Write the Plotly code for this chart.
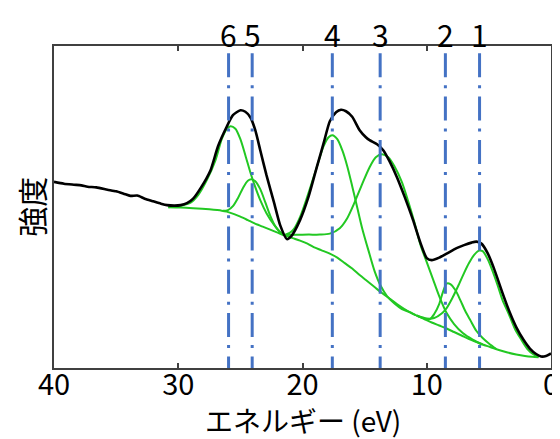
import plotly.graph_objects as go

# Measured spectrum (energy eV, intensity a.u.)
spec_x = [40.0, 39.2, 38.4, 37.8, 37.3, 36.6, 35.7, 35.0, 34.4, 33.85, 33.3, 32.7, 32.0, 31.4, 30.9, 30.3,
          29.8, 29.3, 28.8, 28.2, 27.4, 26.8, 26.1, 25.6, 25.0, 24.6, 24.2, 23.8, 23.4, 22.9, 22.3, 21.8,
          21.26, 20.9, 20.2, 19.5, 18.85, 18.3, 17.8, 17.3, 16.9, 16.5, 16.0, 15.4, 14.9, 14.6, 14.0, 13.5,
          13.0, 12.4, 11.8, 11.1, 10.5, 10.0, 9.6, 9.0, 8.4, 7.6, 7.0, 6.4, 6.0, 5.6, 5.1, 4.6, 3.9, 3.3,
          2.8, 2.2, 1.7, 1.2, 0.8, 0.4, 0.0]
spec_y = [186.3, 184.5, 183.5, 182.8, 181.5, 180.8, 178.5, 176.8, 174.5, 172.3, 172.6, 169.5, 166.8, 164.5, 163, 162.5,
          163, 165, 169.5, 180, 198, 222, 241.5, 253, 258, 256.5, 251, 238, 218, 193, 166, 143,
          129, 132, 148, 172, 201, 225, 247, 256, 258.5, 257, 251.5, 238, 231, 228, 224, 218,
          207, 191, 172, 148, 125, 110, 108, 110.5, 114.5, 120, 123, 125.5, 126.5, 124.5, 115, 100, 75, 55,
          41, 28, 19.5, 14, 11.5, 12, 14.5]

# Background
bg_x = [30.8, 29.8, 28.8, 27.5, 26.5, 26.1, 25.5, 25.0, 24.4, 23.9, 23.2, 22.6, 22.0, 21.5, 20.8, 20.2,
        19.6, 19.1, 18.5, 17.8, 17.2, 16.6, 16.0, 15.4, 14.8, 14.2, 13.6, 13.0, 12.4, 11.8, 11.2, 10.8,
        10.2, 9.6, 9.0, 8.4, 7.8, 7.2, 6.6, 6.0, 5.5, 4.9, 4.2, 3.5, 2.8, 2.1, 1.5, 1.0]
bg_y = [161, 160.7, 160, 158.8, 157.5, 156.5, 154, 151.5, 148, 145, 141.5, 138.5, 135.5, 133, 130, 127.5,
        124.5, 121, 118, 114.5, 110.5, 105, 99.5, 93, 87, 81, 75, 69.5, 64, 59, 55, 52.5,
        49, 45.5, 42.5, 39.5, 36, 32.5, 29, 26, 23.5, 21, 18, 15.5, 13.5, 12, 11.2, 10.8]

# Fitted components (background included)
p6_x = [30.8, 29.8, 29.0, 28.4, 27.7, 27.0, 26.5, 26.1, 25.8, 25.4, 25.0, 24.6, 24.2, 23.8, 23.4, 22.9, 22.3, 21.8, 21.5]
p6_y = [161, 162.5, 165.5, 173, 188, 208, 229, 239, 242, 239.5, 229, 213, 196, 181, 168, 155, 143.5, 136, 133]
p5_x = [26.4, 26.0, 25.6, 25.2, 24.8, 24.4, 24.1, 23.8, 23.4, 23.0, 22.6, 22.2, 21.8, 21.5]
p5_y = [157.3, 158, 162, 170, 180, 187.5, 189, 187, 179, 166, 152.5, 142, 136, 133]
p4_x = [21.5, 21.0, 20.7, 20.2, 19.6, 18.9, 18.3, 17.9, 17.6, 17.2, 16.8, 16.4, 16.0, 15.6, 15.2, 14.7,
        14.2, 13.7, 13.2, 12.6, 12.0, 11.4, 10.9]
p4_y = [133, 135.5, 139, 151, 172, 199, 222, 231, 233, 229, 218, 202, 182, 161, 140, 118,
        97, 82, 72, 64.5, 59, 56, 53]
p3_x = [21.5, 20.5, 19.5, 18.6, 17.8, 17.0, 16.4, 15.8, 15.2, 14.6, 14.1, 13.6, 13.1, 12.6, 12.0, 11.5,
        11.0, 10.5, 10.0, 9.5, 9.0, 8.4, 7.8, 7.1, 6.3, 5.5]
p3_y = [133, 133.3, 133.5, 133.5, 134.5, 140, 150, 166, 184, 201, 211, 214, 211, 202, 186, 167,
        146, 123, 106, 89, 72, 55, 44, 35, 28.5, 23.5]
p2_x = [10.8, 10.2, 9.75, 9.4, 9.0, 8.7, 8.4, 8.1, 7.7, 7.3, 6.9, 6.5, 6.0, 5.5, 5.0, 4.4]
p2_y = [52.5, 49.5, 49, 54, 64, 76, 84.5, 84, 78, 68, 57, 48, 37, 30, 24.5, 19]
p1_x = [10.8, 10.0, 9.4, 8.8, 8.4, 7.9, 7.4, 7.0, 6.6, 6.2, 5.8, 5.5, 5.1, 4.7, 4.3, 3.9, 3.4, 2.9,
        2.4, 1.9, 1.4, 1.0]
p1_y = [52.5, 49.5, 50, 54.5, 60, 71, 84, 95, 105, 113, 117.5, 117, 109, 97, 83, 68, 54, 39,
        28.5, 19, 13.5, 10.8]

# Peak positions and labels
peak_pos = [5.75, 8.5, 13.75, 17.6, 24.05, 25.95]
peak_lab = ["1", "2", "3", "4", "5", "6"]

x_ticks = [40, 30, 20, 10, 0]
y_max = 322.3

GREEN = "#22C822"
BLUE = "#4472C4"
FONT = "Noto Sans CJK JP"

fig = go.Figure()
for xs, ys in [(bg_x, bg_y), (p6_x, p6_y), (p5_x, p5_y), (p4_x, p4_y),
               (p3_x, p3_y), (p2_x, p2_y), (p1_x, p1_y)]:
    fig.add_trace(go.Scatter(x=xs, y=ys, mode="lines",
                             line=dict(color=GREEN, width=2, shape="spline", smoothing=0.8),
                             hoverinfo="skip", showlegend=False))
fig.add_trace(go.Scatter(x=spec_x, y=spec_y, mode="lines",
                         line=dict(color="black", width=2.6, shape="spline", smoothing=0.6),
                         showlegend=False))
for p in peak_pos:
    fig.add_trace(go.Scatter(x=[p, p], y=[y_max, 0], mode="lines",
                             line=dict(color=BLUE, width=3, dash="0px,7.3px,24px,8px,3px,1px"),
                             hoverinfo="skip", showlegend=False))

annotations = []
for p, lab in zip(peak_pos, peak_lab):
    annotations.append(dict(x=p, xref="x", y=1, yref="paper", yanchor="bottom", xanchor="center",
                            text=lab, showarrow=False, yshift=-12,
                            font=dict(family=FONT, size=30, color="black")))
annotations.append(dict(x=0.5, xref="paper", y=-0.163, yref="paper", yanchor="middle", xanchor="center",
                        text="エネルギー (eV)", showarrow=False,
                        font=dict(family=FONT, size=28, color="black")))
annotations.append(dict(x=-0.047, xref="paper", y=0.5, yref="paper", xanchor="center", yanchor="middle",
                        text="強度", showarrow=False, textangle=-90,
                        font=dict(family=FONT, size=30, color="black")))

fig.update_layout(
    width=552, height=431,
    margin=dict(l=46, r=9, t=38, b=71, autoexpand=False),
    paper_bgcolor="white", plot_bgcolor="white",
    font=dict(family=FONT, color="black"),
    annotations=annotations,
    xaxis=dict(range=[40, 0], tickvals=x_ticks, ticktext=[str(t) for t in x_ticks],
               ticks="inside", ticklen=5, tickwidth=1.5, tickcolor="#404040",
               showline=True, linecolor="#404040", linewidth=2, mirror="allticks",
               showgrid=False, zeroline=False, automargin=False, ticklabelstandoff=-10,
               tickfont=dict(family=FONT, size=29, color="black")),
    yaxis=dict(range=[0, y_max], showticklabels=False, ticks="",
               showline=True, linecolor="#404040", linewidth=2, mirror=True,
               showgrid=False, zeroline=False, automargin=False),
)

fig.write_html("out.html")
